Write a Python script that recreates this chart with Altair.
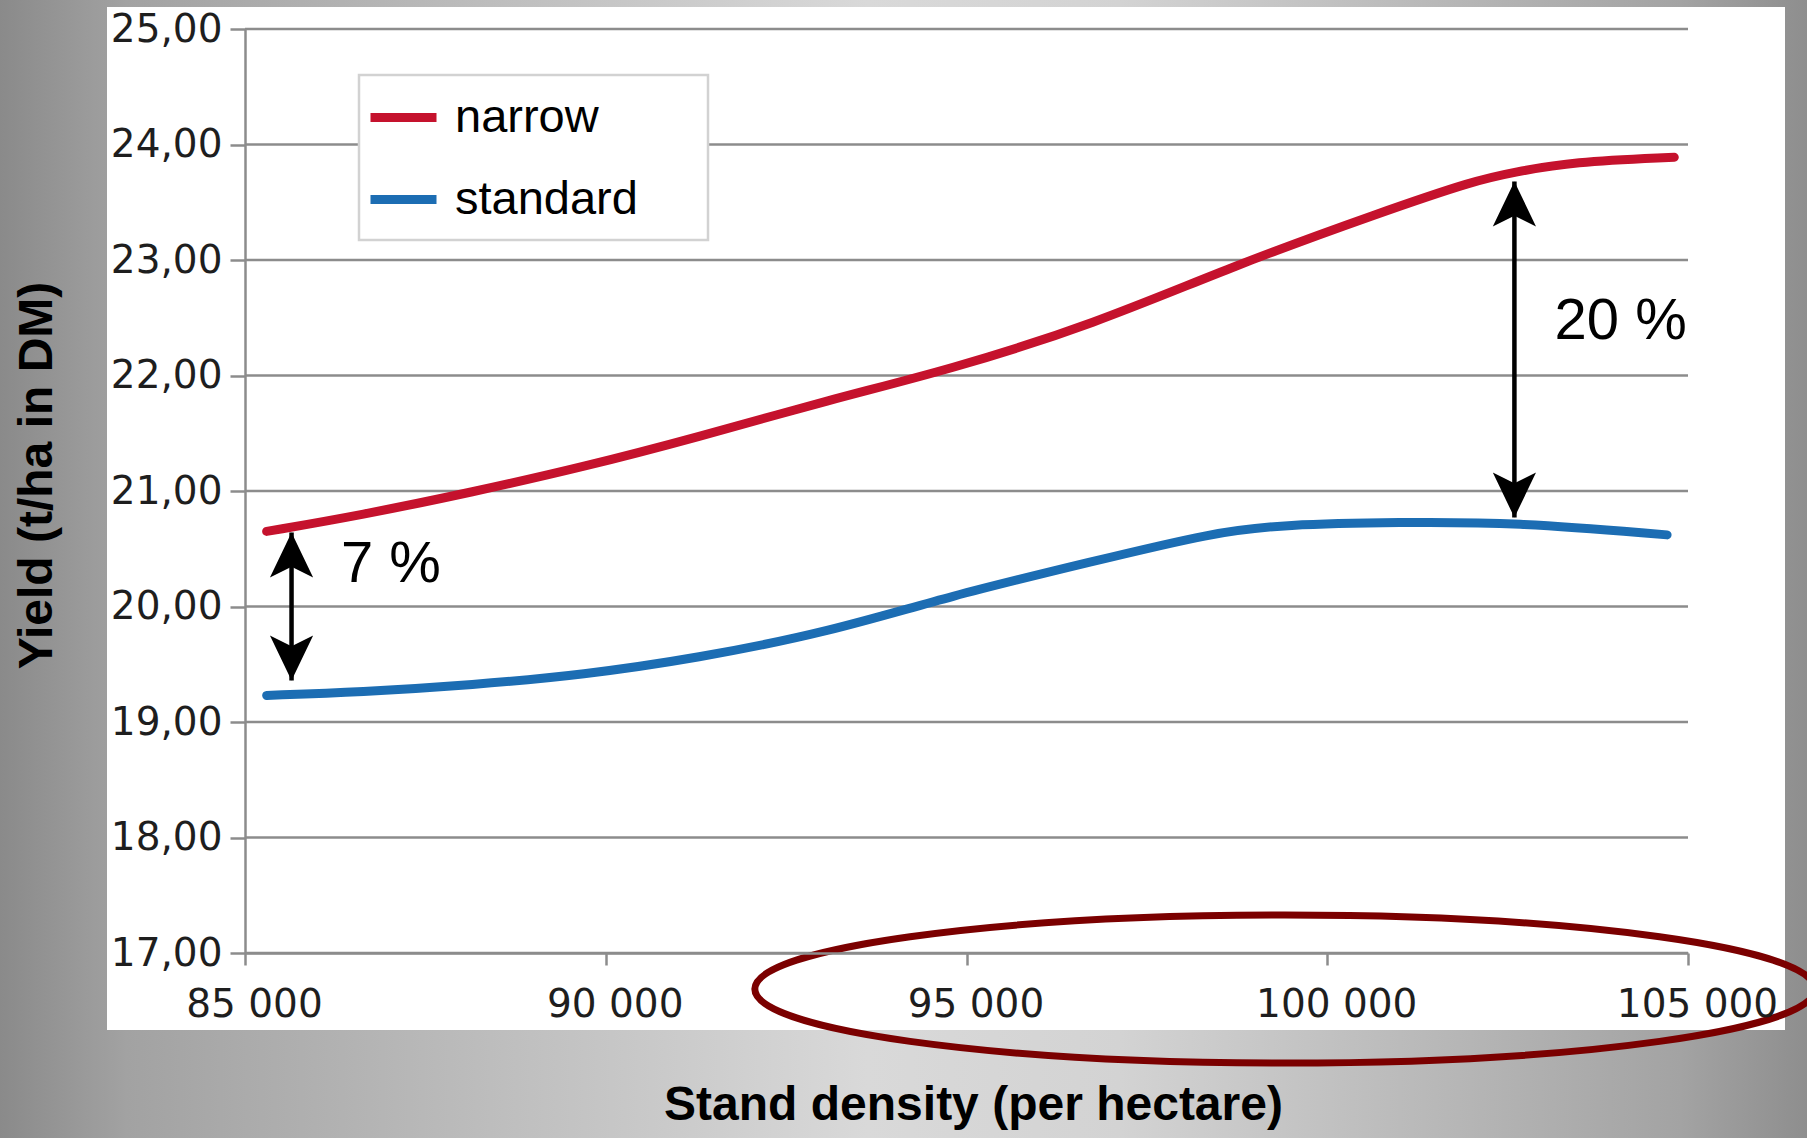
import altair as alt
import pandas as pd

# Yield curves (t/ha dry matter) against stand density (plants per hectare)
density_narrow = [85300, 86600, 88150, 89700, 91240, 93100, 94760, 96750, 98740, 100730, 102050, 102590, 103390, 104810]
yield_narrow = [20.65, 20.79, 20.99, 21.21, 21.46, 21.79, 22.05, 22.44, 22.96, 23.41, 23.69, 23.76, 23.85, 23.89]

density_standard = [85300, 86600, 88150, 89700, 91240, 93100, 94760, 96750, 98410, 99410, 101000, 102590, 104710]
yield_standard = [19.23, 19.26, 19.32, 19.41, 19.55, 19.78, 20.09, 20.39, 20.64, 20.71, 20.73, 20.73, 20.62]

series_names = ["narrow", "standard"]

# Gap arrows between the two curves and their percentage notes
arrow_density = [85645, 102594]
arrow_top = [20.64, 23.68]
arrow_bottom = [19.36, 20.77]
note_text = ["7 %", "20 %"]
note_density = [86330, 103150]
note_yield = [20.36, 22.46]

# Highlight ring around the high-density end of the axis
ring_density = [99412]
ring_yield = [16.688]

x_ticks = [85000, 90000, 95000, 100000, 105000]
y_ticks = [17, 18, 19, 20, 21, 22, 23, 24, 25]

RED = "#c5122d"
BLUE = "#1c6db3"
GRID = "#8c8c8c"

W, H = 1443, 924
PAD = {"left": 245, "top": 29, "right": 1807 - 245 - W, "bottom": 1138 - 29 - H}

series = pd.DataFrame({
    "density": density_narrow + density_standard,
    "yield": yield_narrow + yield_standard,
    "row spacing": [series_names[0]] * len(density_narrow) + [series_names[1]] * len(density_standard),
})
arrows = pd.DataFrame({"density": arrow_density, "top": arrow_top, "bottom": arrow_bottom})
notes = pd.DataFrame({"density": note_density, "yield": note_yield, "text": note_text})
ring = pd.DataFrame({"density": ring_density, "yield": ring_yield})
grid = pd.DataFrame({"yield": y_ticks})
one = pd.DataFrame({"_": [0]})

x_scale = alt.Scale(domain=[85000, 105000], nice=False, zero=False)
y_scale = alt.Scale(domain=[17, 25], nice=False, zero=False)

x_axis = alt.Axis(
    values=x_ticks, title="Stand density (per hectare)",
    labelExpr="replace(format(datum.value, ','), ',', ' ')",
    grid=False, zindex=1, domainColor=GRID, domainWidth=2.5,
    tickColor=GRID, tickWidth=2.5, tickSize=12,
    labelPadding=20, labelFont="DejaVu Sans", labelFontSize=39, labelColor="#1e1e1e",
    labelOffset=9, labelFlush=False, labelOverlap=False, labelBound=False,
    titleFont="Liberation Sans", titleFontSize=48, titleFontWeight="bold", titleColor="black",
    titleX=728, titleY=152, titleBaseline="middle", titleAlign="center",
)
y_axis = alt.Axis(
    values=y_ticks, title="Yield (t/ha in DM)",
    labelExpr="replace(format(datum.value, '.2f'), '.', ',')",
    grid=False, zindex=1, domainColor=GRID, domainWidth=2.5,
    tickColor=GRID, tickWidth=2.5, tickSize=15,
    labelPadding=8, labelFont="DejaVu Sans", labelFontSize=39, labelColor="#1e1e1e",
    labelFlush=False, labelOverlap=False, labelBound=False,
    titleFont="Liberation Sans", titleFontSize=48, titleFontWeight="bold", titleColor="black",
    titleX=-208, titleY=446, titleBaseline="middle", titleAlign="center", titleAngle=270,
)


def xq(field):
    return alt.X(f"{field}:Q", scale=x_scale, axis=x_axis, title="Stand density (per hectare)")


def yq(field):
    return alt.Y(f"{field}:Q", scale=y_scale, axis=y_axis, title="Yield (t/ha in DM)")


# Grey slide backdrop with a lighter centre
backdrop = alt.Chart(one).mark_rect(
    fill=alt.Gradient(
        gradient="linear", x1=0, x2=1, y1=0, y2=0,
        stops=[
            alt.GradientStop(offset=0, color="#8a8a8a"),
            alt.GradientStop(offset=0.07, color="#a2a2a2"),
            alt.GradientStop(offset=0.48, color="#d9d9d9"),
            alt.GradientStop(offset=0.62, color="#d3d3d3"),
            alt.GradientStop(offset=0.93, color="#a3a3a3"),
            alt.GradientStop(offset=1, color="#8e8e8e"),
        ],
    )
).encode(x=alt.value(-PAD["left"]), x2=alt.value(1807 - PAD["left"]),
         y=alt.value(-PAD["top"]), y2=alt.value(1138 - PAD["top"]))

# White chart panel
panel = alt.Chart(one).mark_rect(fill="white").encode(
    x=alt.value(107 - PAD["left"]), x2=alt.value(1785 - PAD["left"]),
    y=alt.value(7 - PAD["top"]), y2=alt.value(1030 - PAD["top"]),
)

gridlines = alt.Chart(grid).mark_rule(color=GRID, strokeWidth=2.5).encode(y=yq("yield"))

legend_box = alt.Chart(one).mark_rect(fill="white", stroke="#d2d2d2", strokeWidth=2.5).encode(
    x=alt.value(359 - PAD["left"]), x2=alt.value(708 - PAD["left"]),
    y=alt.value(75 - PAD["top"]), y2=alt.value(240 - PAD["top"]),
)

lines = alt.Chart(series).mark_line(strokeWidth=9, strokeCap="round", interpolate="basis").encode(
    x=xq("density"),
    y=yq("yield"),
    color=alt.Color(
        "row spacing:N",
        scale=alt.Scale(domain=series_names, range=[RED, BLUE]),
        legend=alt.Legend(
            title=None, orient="none", legendX=121, legendY=51, padding=0,
            symbolType="stroke", symbolSize=66 * 66, symbolStrokeWidth=9,
            labelFont="Liberation Sans", labelFontSize=47, labelColor="black",
            labelOffset=14, rowPadding=21, labelLimit=500,
        ),
    ),
)

shafts = alt.Chart(arrows).mark_rule(color="black", strokeWidth=4.5).encode(
    x=xq("density"), y=yq("top"), y2="bottom:Q",
)

HEAD_UP = "M0,0 L0.48,1 L0,0.76 L-0.48,1 Z"
HEAD_DOWN = "M0,0 L0.48,-1 L0,-0.76 L-0.48,-1 Z"

heads_up = alt.Chart(arrows).mark_point(
    shape=HEAD_UP, size=8100, filled=True, fill="black", strokeWidth=0, opacity=1
).encode(x=xq("density"), y=yq("top"))
heads_down = alt.Chart(arrows).mark_point(
    shape=HEAD_DOWN, size=8100, filled=True, fill="black", strokeWidth=0, opacity=1
).encode(x=xq("density"), y=yq("bottom"))

labels = alt.Chart(notes).mark_text(
    align="left", baseline="middle", font="Liberation Sans", fontSize=58, color="black"
).encode(x=xq("density"), y=yq("yield"), text="text:N")

# Ellipse outline: half-height ratio 0.1396 of the half-width
ELLIPSE = ("M-1,0 C-1,-0.0771 -0.5523,-0.1396 0,-0.1396 "
           "C0.5523,-0.1396 1,-0.0771 1,0 "
           "C1,0.0771 0.5523,0.1396 0,0.1396 "
           "C-0.5523,0.1396 -1,0.0771 -1,0 Z")
ring_mark = alt.Chart(ring).mark_point(
    shape=ELLIPSE, size=1060 * 1060, filled=False, stroke="#7b0000", strokeWidth=7, opacity=1
).encode(x=xq("density"), y=yq("yield"))

chart = alt.layer(
    backdrop, panel, gridlines, legend_box, lines, shafts, heads_up, heads_down, labels, ring_mark
).properties(
    width=W, height=H, padding=PAD, autosize=alt.AutoSizeParams(type="none"),
    background="#9a9a9a",
).configure_view(strokeWidth=0)

chart.save("out.html", embed_options={"renderer": "svg", "actions": False})
